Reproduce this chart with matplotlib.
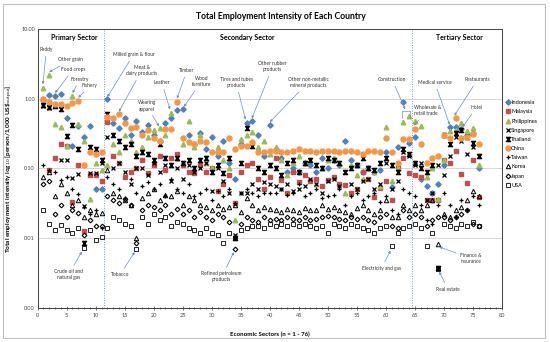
import numpy as np
import matplotlib
matplotlib.use('Agg')
import matplotlib.pyplot as plt
from matplotlib.patches import Rectangle

plt.rcParams['font.family'] = ['Lato', 'DejaVu Sans']

sectors = list(range(1, 77))

indonesia = [0.95, 1.13, 1.07, 1.15, 0.53, 0.21, 0.40, 0.28, 0.40, 0.05, 0.05,
             0.97, 0.45, 0.38, 0.53, 0.30, 0.48, 0.33, 0.42, 0.30, 0.25, 0.45, 0.52, 0.68, 0.70,
             0.30, 0.22, 0.32, 0.19, 0.28, 0.15, 0.25, 0.12, 0.07, 0.22, 0.45, 0.48, 0.30, 0.15, 0.42,
             0.19, 0.14, 0.09, 0.10, 0.089, 0.12, 0.11, 0.09, 0.14, 0.10, 0.13, 0.11, 0.25, 0.13, 0.11,
             0.09, 0.10, 0.089, 0.094, 0.17, 0.054, 0.20, 0.90, 0.23,
             0.28, 0.07, 0.055, 0.045, 0.06, 0.11, 0.39, 0.39, 0.37, 0.30, 0.32, 0.10]
malaysia = [1.0, 0.094, 0.14, 0.22, 0.21, 0.033, 0.11, 0.0125, 0.079, 0.079, 0.065,
            0.46, 0.15, 0.12, 0.075, 0.089, 0.10, 0.13, 0.085, 0.11, 0.15, 0.096, 0.14, 0.16, 0.11,
            0.089, 0.086, 0.11, 0.09, 0.10, 0.048, 0.06, 0.079, 0.032, 0.09, 0.11, 0.12, 0.07, 0.051, 0.075,
            0.14, 0.067, 0.045, 0.09, 0.064, 0.079, 0.065, 0.07, 0.055, 0.067, 0.075, 0.06, 0.057, 0.045, 0.05,
            0.089, 0.07, 0.039, 0.053, 0.065, 0.035, 0.10, 0.14, 0.086,
            0.079, 0.075, 0.035, 0.035, 0.035, 0.13, 0.12, 0.18, 0.084, 0.062, 0.13, 0.039]
philippines = [1.4, 2.2, 0.43, 0.39, 0.21, 1.07, 0.43, 0.25, 0.037, 0.12, 0.094,
               0.11, 0.22, 0.17, 0.30, 0.25, 0.17, 0.20, 0.28, 0.35, 0.38, 0.30, 0.63, 0.14, 0.22,
               0.48, 0.20, 0.30, 0.12, 0.10, 0.20, 0.13, 0.10, 0.018, 0.26, 0.30, 0.33, 0.20, 0.25, 0.16,
               0.20, 0.13, 0.08, 0.12, 0.15, 0.12, 0.13, 0.06, 0.10, 0.13, 0.14, 0.12, 0.045, 0.11, 0.08,
               0.07, 0.10, 0.09, 0.055, 0.39, 0.065, 0.10, 0.46, 0.57,
               0.48, 0.40, 0.075, 0.10, 0.036, 0.13, 0.34, 0.36, 0.45, 0.34, 0.38, 0.11]
singapore = [0.78, 0.74, 0.80, 0.13, 0.13, 0.072, 0.082, 0.029, 0.085, 0.085, 0.12,
             0.28, 0.10, 0.12, 0.09, 0.06, 0.10, 0.10, 0.08, 0.12, 0.09, 0.11, 0.065, 0.10, 0.07,
             0.11, 0.09, 0.10, 0.12, 0.048, 0.10, 0.065, 0.045, 0.011, 0.045, 0.045, 0.06, 0.05, 0.064, 0.06,
             0.055, 0.05, 0.06, 0.048, 0.05, 0.055, 0.07, 0.06, 0.045, 0.065, 0.07, 0.055, 0.09, 0.06, 0.05,
             0.065, 0.07, 0.05, 0.06, 0.12, 0.05, 0.065, 0.17, 0.15,
             0.11, 0.12, 0.035, 0.045, 0.11, 0.08, 0.15, 0.28, 0.25, 0.16, 0.20, 0.15]
thailand = [0.80, 0.76, 0.77, 0.70, 0.29, 0.42, 0.19, 0.0085, 0.20, 0.19, 0.13,
            0.60, 0.30, 0.25, 0.20, 0.22, 0.15, 0.17, 0.16, 0.13, 0.22, 0.14, 0.11, 0.14, 0.12,
            0.13, 0.10, 0.13, 0.14, 0.09, 0.11, 0.085, 0.14, 0.010, 0.12, 0.38, 0.21, 0.10, 0.09, 0.11,
            0.10, 0.08, 0.12, 0.13, 0.09, 0.12, 0.13, 0.11, 0.10, 0.14, 0.13, 0.12, 0.09, 0.10, 0.11,
            0.14, 0.10, 0.095, 0.12, 0.14, 0.11, 0.09, 0.19, 0.16,
            0.12, 0.10, 0.09, 0.11, 0.0037, 0.30, 0.22, 0.32, 0.35, 0.28, 0.23, 0.15]
china = [1.0, 0.89, 0.83, 0.83, 0.78, 0.86, 0.93, 0.11, 0.17, 0.16, 0.17,
         0.55, 0.53, 0.61, 0.45, 0.38, 0.39, 0.30, 0.36, 0.27, 0.25, 0.37, 0.37, 0.89, 0.27,
         0.24, 0.22, 0.25, 0.24, 0.17, 0.17, 0.17, 0.27, 0.19, 0.21, 0.21, 0.24, 0.17, 0.17, 0.18,
         0.18, 0.17, 0.17, 0.18, 0.19, 0.18, 0.18, 0.17, 0.18, 0.18, 0.18, 0.17, 0.18, 0.18, 0.17,
         0.16, 0.18, 0.18, 0.17, 0.27, 0.17, 0.12, 0.26, 0.26,
         0.37, 0.22, 0.12, 0.14, 0.15, 0.30, 0.27, 0.53, 0.27, 0.28, 0.31, 0.22]
taiwan = [0.11, 0.095, 0.089, 0.067, 0.075, 0.05, 0.043, 0.028, 0.022, 0.025, 0.014,
          0.075, 0.06, 0.05, 0.038, 0.07, 0.045, 0.055, 0.064, 0.05, 0.06, 0.04, 0.07, 0.05, 0.045,
          0.06, 0.04, 0.045, 0.05, 0.035, 0.048, 0.04, 0.05, 0.032, 0.045, 0.05, 0.044, 0.04, 0.044, 0.044,
          0.044, 0.05, 0.042, 0.045, 0.06, 0.04, 0.045, 0.05, 0.038, 0.04, 0.042, 0.05, 0.03, 0.04, 0.045,
          0.035, 0.04, 0.045, 0.033, 0.04, 0.025, 0.022, 0.05, 0.045,
          0.04, 0.03, 0.018, 0.016, 0.03, 0.045, 0.03, 0.02, 0.035, 0.025, 0.04, 0.03]
korea = [0.075, 0.09, 0.04, 0.059, 0.045, 0.03, 0.035, 0.02, 0.025, 0.022, 0.023,
         0.095, 0.045, 0.04, 0.035, 0.03, 0.0102, 0.038, 0.045, 0.05, 0.035, 0.042, 0.04, 0.048, 0.03,
         0.04, 0.035, 0.03, 0.028, 0.025, 0.03, 0.026, 0.028, 0.03, 0.024, 0.038, 0.03, 0.025, 0.028, 0.026,
         0.025, 0.024, 0.026, 0.025, 0.024, 0.027, 0.025, 0.025, 0.03, 0.026, 0.028, 0.025, 0.024, 0.022, 0.027,
         0.03, 0.025, 0.022, 0.025, 0.035, 0.02, 0.02, 0.03, 0.025,
         0.03, 0.025, 0.03, 0.035, 0.0083, 0.022, 0.02, 0.025, 0.028, 0.035, 0.048, 0.04]
japan = [0.06, 0.065, 0.022, 0.03, 0.02, 0.025, 0.023, 0.011, 0.018, 0.015, 0.015,
         0.04, 0.035, 0.032, 0.036, 0.03, 0.0086, 0.025, 0.03, 0.028, 0.025, 0.03, 0.022, 0.026, 0.022,
         0.025, 0.02, 0.024, 0.02, 0.018, 0.022, 0.02, 0.017, 0.0069, 0.016, 0.02, 0.018, 0.017, 0.02, 0.018,
         0.019, 0.018, 0.02, 0.019, 0.018, 0.02, 0.018, 0.019, 0.02, 0.021, 0.02, 0.019, 0.018, 0.02, 0.019,
         0.02, 0.018, 0.017, 0.02, 0.022, 0.015, 0.014, 0.025, 0.02,
         0.022, 0.02, 0.015, 0.018, 0.02, 0.02, 0.018, 0.02, 0.022, 0.025, 0.016, 0.015]
usa = [0.025, 0.016, 0.013, 0.0154, 0.013, 0.012, 0.014, 0.0072, 0.013, 0.0094, 0.0104,
       0.0142, 0.02, 0.018, 0.016, 0.015, 0.0069, 0.02, 0.016, 0.022, 0.018, 0.02, 0.015, 0.017, 0.016,
       0.014, 0.013, 0.012, 0.014, 0.012, 0.011, 0.0085, 0.012, 0.0099, 0.013, 0.014, 0.015, 0.015, 0.014, 0.016,
       0.015, 0.016, 0.015, 0.016, 0.015, 0.016, 0.015, 0.014, 0.015, 0.012, 0.016, 0.015, 0.014, 0.016, 0.015,
       0.014, 0.013, 0.012, 0.014, 0.015, 0.0078, 0.012, 0.014, 0.015,
       0.016, 0.014, 0.0077, 0.012, 0.0036, 0.016, 0.015, 0.014, 0.016, 0.015, 0.017, 0.015]

hourglass = [(-1, 1), (1, 1), (-1, -1), (1, -1), (-1, 1)]

series = [
    ('Indonesia', indonesia, dict(marker='D', color='#4F81BD', ms=2.7)),
    ('Malaysia', malaysia, dict(marker='s', color='#C0504D', ms=3.1)),
    ('Philippines', philippines, dict(marker='^', color='#9BBB59', ms=3.3)),
    ('Singapore', singapore, dict(marker='x', color='black', ms=2.9, mew=0.9)),
    ('Thailand', thailand, dict(marker=hourglass, color='black', ms=3.0)),
    ('China', china, dict(marker='o', color='#F79646', ms=3.6)),
    ('Taiwan', taiwan, dict(marker='+', color='black', ms=3.2, mew=0.9)),
    ('Korea', korea, dict(marker='^', mfc='none', mec='black', ms=3.2, mew=0.7)),
    ('Japan', japan, dict(marker='D', mfc='none', mec='black', ms=2.4, mew=0.8)),
    ('USA', usa, dict(marker='s', mfc='none', mec='black', ms=2.8, mew=0.6)),
]

fig = plt.figure(figsize=(5.5, 3.42), dpi=100)
ax = fig.add_axes([0.0685, 0.0994, 0.8442, 0.8167])

for name, vals, kw in series:
    assert len(vals) == 76, name
    ax.plot(sectors, vals, ls='none', label=name, **kw)

ax.set_yscale('log')
ax.set_ylim(0.001, 10)
ax.set_xlim(0, 80)
ax.set_xticks(range(0, 81, 5))
ax.set_xticks(range(0, 81), minor=True)
ax.set_yticks([0.001, 0.01, 0.1, 1, 10])
ax.set_yticklabels(['0.00', '0.01', '0.10', '1.00', '10.00'])
ax.yaxis.set_minor_locator(matplotlib.ticker.NullLocator())
ax.tick_params(axis='both', labelsize=4, colors='#404040', length=2, width=0.5, pad=2)
ax.tick_params(axis='x', which='minor', length=1.5, width=0.4, direction='inout')
ax.tick_params(axis='x', which='major', direction='inout', length=2.5)
ax.tick_params(axis='y', length=0)
for y in [0.01, 0.1, 1]:
    ax.axhline(y, color='#D0D0D0', lw=0.6, zorder=0)
for s in ax.spines.values():
    s.set_color('#404040')
    s.set_linewidth(0.7)

for xv in [11.5, 64.5]:
    ax.axvline(xv, color='#7F95B8', lw=0.7, ls=(0, (1, 1.5)), zorder=0)

ax.set_xlabel('Economic Sectors (n = 1 - 76)', fontsize=4.4, fontweight='bold', labelpad=10)
ax.set_ylabel('Total employment intensity log$_{10}$ [person/1,000 US\\$$_{\\mathrm{output}}$]',
              fontsize=4.6, fontweight='bold')
ax.yaxis.set_label_coords(-0.048, 0.5)

fig.text(0.51, 0.951, 'Total Employment Intensity of Each Country', ha='center', va='center',
         fontsize=6.2, fontweight='bold')

for xs, lab in [(6.3, 'Primary Sector'), (36.2, 'Secondary Sector'), (72.7, 'Tertiary Sector')]:
    ax.text(xs, 7.5, lab, ha='center', va='center', fontsize=5, fontweight='bold')

ann = [
    ('Paddy', (1.5, 5.0), (0.9, 1.6)),
    ('Other grain', (5.7, 3.57), (2.0, 2.4)),
    ('Food crops', (6.1, 2.6), (3.0, 1.2)),
    ('Forestry', (7.3, 1.89), (6.0, 1.2)),
    ('Fishery', (9.0, 1.53), (7.0, 1.03)),
    ('Milled grain & flour', (16.5, 4.25), (12.0, 1.05)),
    ('Meat &\ndairy products', (17.9, 2.5), (14.0, 0.65)),
    ('Wearing\napparel', (18.8, 0.78), (20.9, 0.4)),
    ('Leather', (21.4, 1.67), (22.8, 0.7)),
    ('Timber', (25.7, 2.5), (24.0, 1.0)),
    ('Wood\nfurniture', (28.2, 1.75), (25.2, 0.76)),
    ('Tires and tubes\nproducts', (34.2, 1.7), (35.8, 0.5)),
    ('Other rubber\nproducts', (40.5, 2.86), (36.9, 0.52)),
    ('Other non-metallic\nmineral products', (46.6, 1.7), (40.0, 0.46)),
    ('Construction', (61.1, 1.87), (63.3, 0.7)),
    ('Medical service', (68.4, 1.7), (71.0, 0.42)),
    ('Restaurants', (75.8, 1.87), (71.8, 0.57)),
    ('Hotel', (75.6, 0.74), (73.2, 0.39)),
    ('Crude oil and\nnatural gas', (5.3, 0.003), (7.6, 0.0064)),
    ('Tobacco', (14.2, 0.003), (16.7, 0.0063)),
    ('Refined petroleum\nproducts', (31.7, 0.0028), (33.8, 0.0063)),
    ('Electricity and gas', (59.2, 0.0037), (60.8, 0.0066)),
    ('Finance &\ninsurance', (74.7, 0.0051), (69.2, 0.0075)),
    ('Real estate', (70.7, 0.00185), (69.2, 0.0033)),
]
arrow = dict(arrowstyle='-|>', color='#6F8FBF', lw=0.5, mutation_scale=3.5, shrinkA=1, shrinkB=0)
for txt, xyt, xy in ann:
    ax.annotate(txt, xy=xy, xytext=xyt, ha='center', va='center', fontsize=3.5,
                color='#303030', arrowprops=arrow, linespacing=1.3)
ax.annotate('Wholesale &\nretail trade', xy=(64.8, 0.41), xytext=(64.9, 0.67), ha='left',
            va='center', fontsize=3.5, color='#303030', arrowprops=arrow, linespacing=1.3)
# bracket over construction sectors
ax.plot([62.7, 62.7, 64.1, 64.1], [0.52, 0.67, 0.67, 0.52], color='#6F8FBF', lw=0.5)

fig.legend(loc='upper left', bbox_to_anchor=(0.915, 0.715), frameon=False, fontsize=4,
           handlelength=0.6, handletextpad=0.3, labelspacing=0.75, borderpad=0)

fig.patches.append(Rectangle((0.006, 0.012), 0.984, 0.975, transform=fig.transFigure,
                             fill=False, edgecolor='#BFBFBF', lw=0.8))

fig.savefig('out.png', dpi=100)
